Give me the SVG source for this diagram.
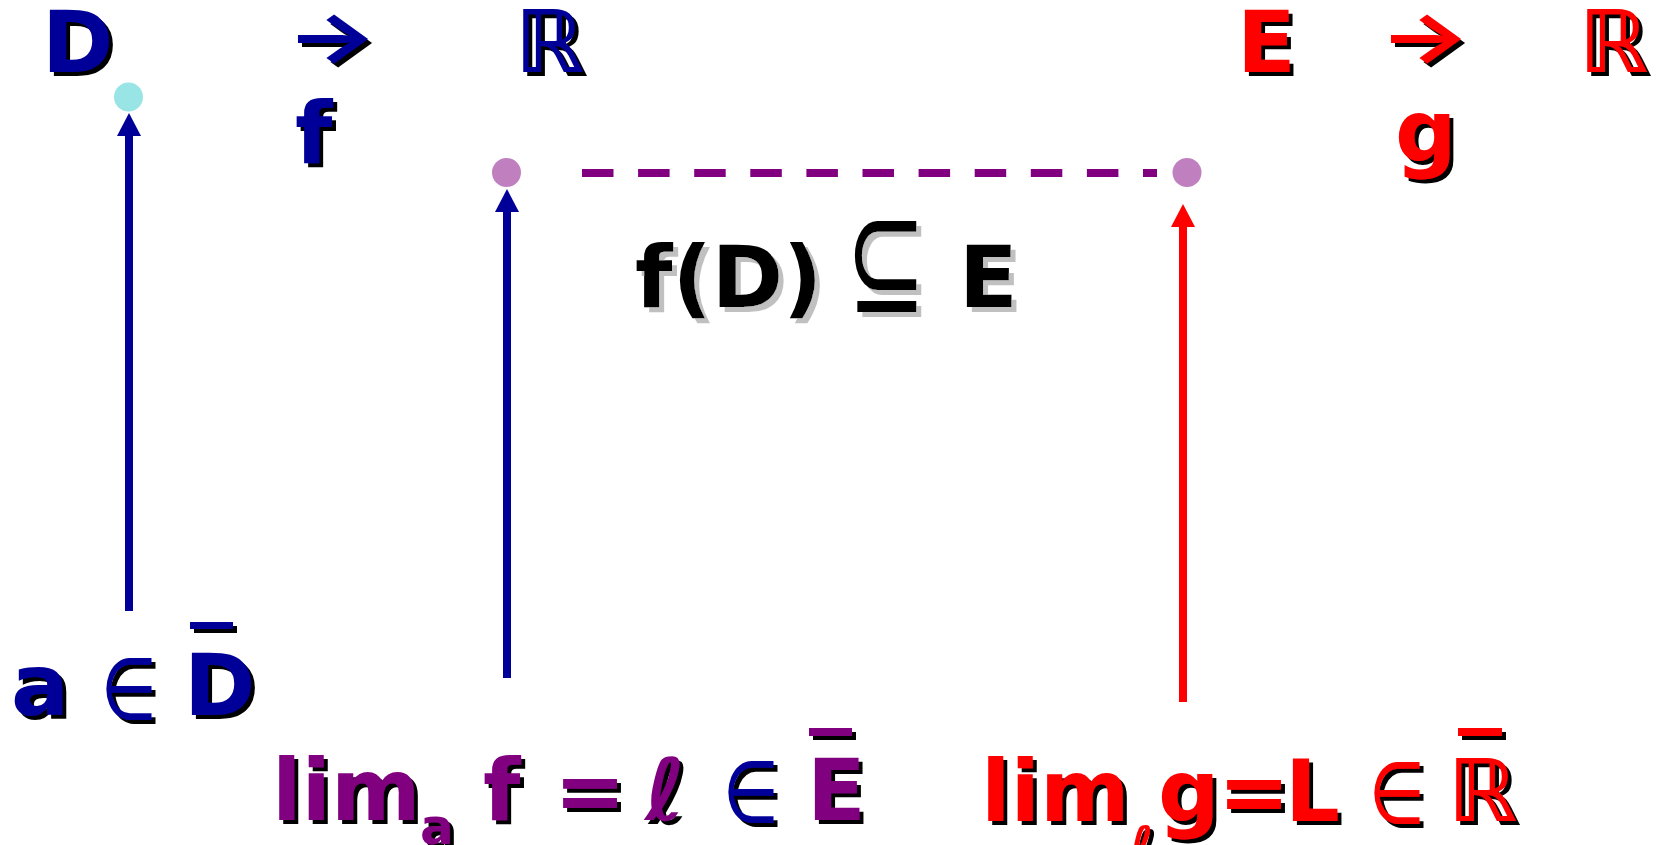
<svg xmlns="http://www.w3.org/2000/svg" width="1657" height="845" viewBox="0 0 1657 845">
<style>
.t{font-family:"DejaVu Sans",sans-serif;font-weight:bold;font-size:86px}
.s{font-size:50px}
.thin{font-weight:normal}
.arr{font-family:Inter,"DejaVu Sans",sans-serif;font-weight:bold;font-size:96px}
.blue{fill:#000099}
.red{fill:#ff0000}
.pur{fill:#800080}
.blk{fill:#000000}
.sh{filter:url(#shadow)}
.shg{filter:url(#shadowGrey)}
.conn{stroke-width:8;fill:none}
</style>
<defs>
<filter id="shadow" x="-20%" y="-20%" width="150%" height="150%">
<feDropShadow dx="4" dy="4" stdDeviation="0" flood-color="#000000" flood-opacity="1"/>
</filter>
<filter id="shadowGrey" x="-20%" y="-20%" width="150%" height="150%">
<feDropShadow dx="5" dy="5" stdDeviation="0" flood-color="#c0c0c0" flood-opacity="1"/>
</filter>
<marker id="headBlue" markerUnits="userSpaceOnUse" markerWidth="23" markerHeight="24" viewBox="0 0 23 24" refX="0" refY="12" orient="auto">
<path d="M0,0 L23,12 L0,24 z" fill="#000099"/>
</marker>
<marker id="headRed" markerUnits="userSpaceOnUse" markerWidth="23" markerHeight="24" viewBox="0 0 23 24" refX="0" refY="12" orient="auto">
<path d="M0,0 L23,12 L0,24 z" fill="#ff0000"/>
</marker>
</defs>
<rect width="1657" height="845" fill="#ffffff"/>

<g id="connectors">
<line class="conn" x1="129" y1="611" x2="129" y2="136" stroke="#000099" marker-end="url(#headBlue)"/>
<line class="conn" x1="507" y1="678" x2="507" y2="212" stroke="#000099" marker-end="url(#headBlue)"/>
<line class="conn" x1="1183" y1="702" x2="1183" y2="227" stroke="#ff0000" marker-end="url(#headRed)"/>
<line class="conn" x1="582" y1="173" x2="1157" y2="173" stroke="#800080" stroke-dasharray="31.5 24.6"/>
</g>

<g id="point-a">
<circle cx="128.5" cy="97" r="14.5" fill="#99e5e5"/>
</g>
<g id="point-l">
<circle cx="506.5" cy="172.5" r="14.5" fill="#c080c0"/>
</g>
<g id="point-L">
<circle cx="1187" cy="172.5" r="14.5" fill="#c080c0"/>
</g>

<g id="map-f" class="t blue sh">
<text x="42" y="72">D</text>
<text class="arr" transform="translate(286,42) scale(1,0.72)" x="0" y="26">→</text>
<text x="515" y="72">ℝ</text>
<text x="295" y="163">f</text>
</g>

<g id="map-g" class="t red sh">
<text x="1237" y="72">E</text>
<text class="arr" transform="translate(1379,42) scale(1,0.72)" x="0" y="26">→</text>
<text x="1579" y="72">ℝ</text>
<text x="1395" y="161">g</text>
</g>

<g id="inclusion" class="t blk shg">
<text x="635" y="307">f(D)</text>
<text class="thin" transform="translate(846,312) scale(1,1.55)" x="0" y="0" font-size="96">⊆</text>
<text x="959" y="307">E</text>
</g>

<g id="a-in-Dbar" class="t blue sh">
<text x="11" y="715">a</text>
<text class="thin" transform="translate(101,719) scale(0.75,1)" x="0" y="0">∈</text>
<text x="184" y="715">D</text>
<rect x="190" y="622" width="43" height="7" fill="#000099"/>
</g>

<g id="limit-f" class="t sh">
<text y="820" class="pur"><tspan x="272">lim</tspan><tspan x="420" y="844" class="s">a</tspan><tspan x="483" y="820">f</tspan></text>
<text y="820" class="pur" x="554">=</text>
<text y="820" class="pur" x="645">ℓ</text>
<text class="blue thin" transform="translate(723,822) scale(0.75,1)" x="0" y="0">∈</text>
<text y="820" class="pur" x="807">E</text>
<rect x="809" y="728" width="43" height="8" fill="#800080"/>
</g>

<g id="limit-g" class="t red sh">
<text y="821"><tspan x="981">lim</tspan><tspan x="1130" y="862" class="s">ℓ</tspan><tspan x="1158" y="821">g</tspan><tspan x="1218">=</tspan><tspan x="1285">L</tspan></text>
<text class="thin" transform="translate(1369,823) scale(0.75,1)" x="0" y="0">∈</text>
<text x="1448" y="821">ℝ</text>
<rect x="1458" y="728" width="44" height="8" fill="#ff0000"/>
</g>
</svg>
